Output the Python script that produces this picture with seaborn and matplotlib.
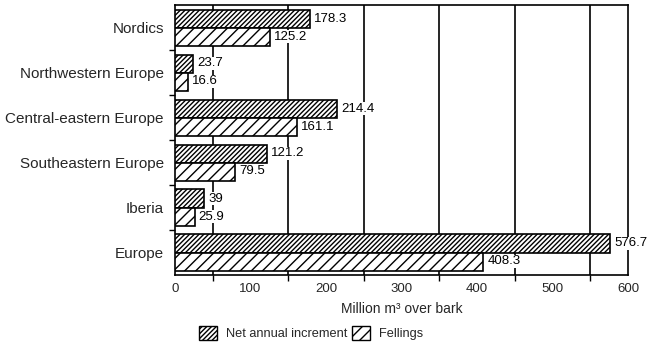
import matplotlib
matplotlib.use("Agg")
import matplotlib.pyplot as plt
import seaborn as sns
import pandas as pd
from matplotlib.patches import Patch
from matplotlib.ticker import FixedLocator

regions = ["Nordics", "Northwestern Europe", "Central-eastern Europe",
           "Southeastern Europe", "Iberia", "Europe"]
series = ["Net annual increment", "Fellings"]
net_increment = [178.3, 23.7, 214.4, 121.2, 39, 576.7]
fellings = [125.2, 16.6, 161.1, 79.5, 25.9, 408.3]
net_labels = ["178.3", "23.7", "214.4", "121.2", "39", "576.7"]
fell_labels = ["125.2", "16.6", "161.1", "79.5", "25.9", "408.3"]
x_ticks = [0, 100, 200, 300, 400, 500, 600]
grid_ticks = [50, 150, 250, 350, 450, 550]
hatches = ["///////", "///"]

sns.set_theme(style="white")
plt.rcParams["font.family"] = ["Liberation Sans", "DejaVu Sans"]
plt.rcParams["hatch.linewidth"] = 1.0
plt.rcParams["hatch.color"] = "black"

df = pd.DataFrame({
    "Region": regions * 2,
    "Value": net_increment + fellings,
    "Series": [series[0]] * len(regions) + [series[1]] * len(regions),
})

fig = plt.figure(figsize=(6.54, 3.54), dpi=100)
ax = fig.add_axes([175 / 654, 1 - 275 / 354, (628 - 175) / 654, (275 - 5) / 354])

sns.barplot(data=df, y="Region", x="Value", hue="Series", orient="h",
            palette=["white", "white"], saturation=1, edgecolor="black",
            linewidth=1.2, width=0.8, legend=False, ax=ax, errorbar=None)

for cont, h, labs in zip(ax.containers, hatches, [net_labels, fell_labels]):
    for bar in cont:
        bar.set_hatch(h)
        bar.set_zorder(3)
    texts = ax.bar_label(cont, labels=labs, padding=3, fontsize=9.5, color="black")
    for t in texts:
        t.set_bbox(dict(facecolor="white", edgecolor="none", pad=0.6))
        t.set_zorder(4)

ax.set_xlim(0, 600)
ax.set_ylim(5.5, -0.5)
ax.set_xticks(x_ticks)
ax.set_xticklabels([str(t) for t in x_ticks], fontsize=9.5)
ax.xaxis.set_minor_locator(FixedLocator(grid_ticks))
ax.yaxis.set_minor_locator(FixedLocator([0.5, 1.5, 2.5, 3.5, 4.5]))
ax.tick_params(axis="y", which="major", labelsize=11, length=0, pad=8)
ax.tick_params(axis="x", which="major", length=0, pad=6)
ax.tick_params(which="minor", length=4, width=1, color="black", direction="out",
               bottom=True, left=True)
ax.grid(False)
ax.grid(which="minor", axis="x", color="black", linewidth=1.2, zorder=0)
ax.set_axisbelow(True)
for s in ax.spines.values():
    s.set_color("black")
    s.set_linewidth(1.2)

ax.set_ylabel("")
ax.set_xlabel("Million m³ over bark", fontsize=10, labelpad=5)

handles = [Patch(facecolor="white", edgecolor="black", hatch=h, linewidth=1) for h in hatches]
fig.legend(handles=handles, labels=series, loc="center", bbox_to_anchor=(0.476, 0.059),
           ncol=2, frameon=False, fontsize=9.2, handlelength=1.4, handleheight=1.3,
           columnspacing=0.4, handletextpad=0.7)

fig.savefig("out.png", dpi=100)
